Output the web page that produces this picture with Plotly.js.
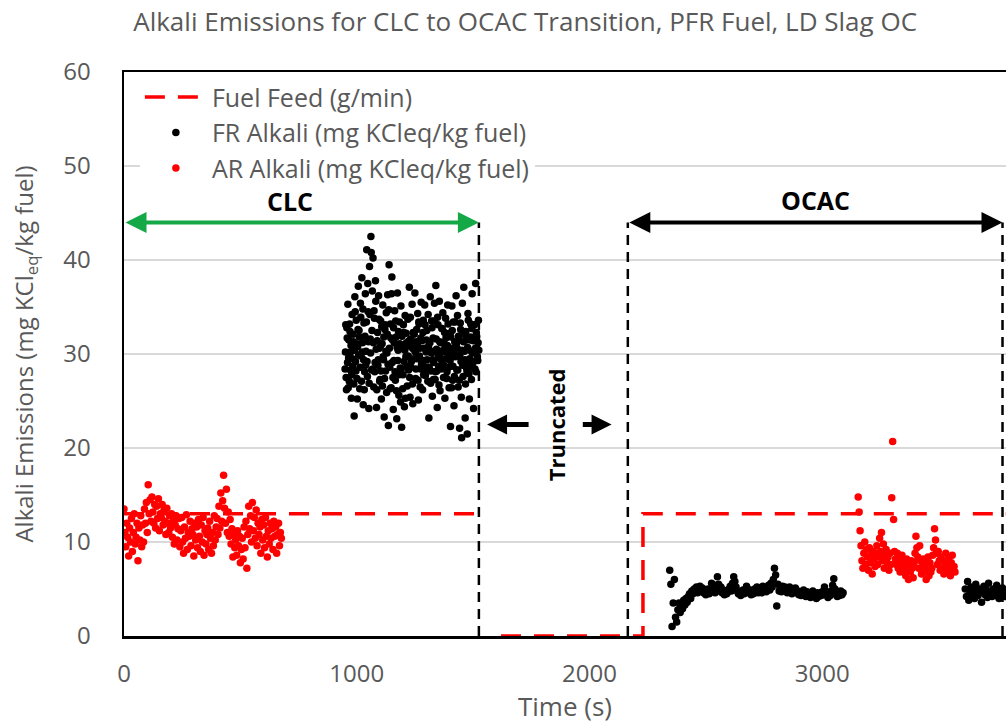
<!DOCTYPE html>
<html>
<head>
<meta charset="utf-8">
<script src="https://cdn.plot.ly/plotly-3.0.1.min.js"></script>
<style>html,body{margin:0;padding:0;background:#fff;}#chart{width:1006px;height:724px;}</style>
</head>
<body>
<div id="chart"></div>
<script>
// ---- Data ----
// Fuel feed (g/min) step profile (gap where the record is missing)
const feedTime = [0, 1525, null, 1620, 2230, 2230, 3790];
const feedValue = [13, 13, null, 0, 0, 13, 13];

// FR alkali, CLC period: start time and sampling step (s)
const frClcStart = 950, frClcStep = 3;
const frClcValues = [
  28.4,33.1,26.2,31.7,35.3,29.6,27.1,32.4,30.2,25.3,
  34.2,28.7,31.3,23.4,36.1,29.2,33.6,27.4,30.8,37.2,
  32.5,26.3,35.4,29.8,38.1,31.2,24.6,33.3,28.1,36.4,
  30.3,41.1,27.6,34.5,24.2,39.3,31.6,42.5,28.3,36.7,
  40.2,26.5,33.8,29.1,35.6,24.3,31.4,28.8,36.2,30.6,
  27.3,33.5,25.2,31.1,35.2,29.4,23.3,32.6,28.2,34.4,
  30.1,36.3,22.4,39.5,28.6,33.2,26.4,38.2,31.5,24.1,
  29.3,34.6,27.2,31.8,23.1,36.5,30.4,25.6,33.4,28.5,
  35.1,22.2,30.7,27.8,32.3,24.4,34.1,29.7,31.2,26.6,
  33.7,28.3,37.1,25.4,31.6,29.2,35.3,24.7,30.5,32.1,
  36.5,27.4,31.3,29.5,34.3,25.1,33.2,30.6,28.4,35.5,
  31.4,26.2,33.6,29.3,35.2,27.7,30.2,32.5,28.6,34.2,
  23.2,30.4,36.1,28.2,33.5,25.5,31.7,29.1,35.4,27.3,
  37.3,30.5,24.3,33.1,28.7,35.6,26.1,31.2,29.4,32.7,
  34.4,27.5,31.1,25.3,33.8,30.2,28.1,35.2,29.6,26.4,
  32.2,22.3,30.6,35.1,27.2,33.4,24.5,31.3,29.7,36.2,
  28.3,34.1,26.5,31.6,22.1,33.3,29.2,21.1,35.4,27.6,
  37.1,30.3,23.2,32.4,28.5,21.5,34.3,29.1,25.2,31.5,
  33.2,27.3,36.4,30.1,24.2,31.6,28.4,37.5,32.3,30.5,
  29.3,33.6
];
// FR alkali, CLC period, interleaved samples
const frClcBStart = 951.5, frClcBStep = 3;
const frClcBValues = [
  30.2,27.5,32.8,29.1,26.4,31.5,33.2,28.3,30.9,27.8,
  29.5,32.1,26.8,30.4,34.5,28.2,31.1,25.2,32.6,29.9,
  31.8,28.6,33.9,27.1,30.2,34.8,29.4,26.2,31.9,28.8,
  33.4,29.2,37.5,31.3,26.9,34.2,30.1,40.8,32.5,28.4,
  31.2,34.6,28.1,37.8,30.5,26.2,32.3,29.4,33.7,27.1,
  30.8,28.2,32.9,26.6,29.7,31.8,27.4,33.1,30.3,25.9,
  32.1,28.9,34.7,30.6,26.3,31.7,36.4,29.1,27.5,32.8,
  31.2,28.1,33.5,26.1,30.7,29.3,32.4,27.8,31.1,24.9,
  28.4,31.9,26.3,33.1,29.2,30.4,25.3,32.2,28.7,30.9,
  29.8,31.4,27.5,33.9,28.6,30.7,26.8,32.3,29.5,31.1,
  30.2,28.4,32.6,31.1,27.2,33.4,29.8,26.5,31.7,28.9,
  29.1,32.3,27.8,30.6,33.1,28.3,31.5,29.4,27.1,30.8,
  28.6,31.2,26.9,30.1,32.8,29.4,27.3,33.5,30.2,28.1,
  31.6,28.2,33.9,29.6,26.7,31.3,30.1,28.4,32.7,29.2,
  30.4,28.8,32.3,29.5,31.7,27.4,30.9,33.2,28.6,30.1,
  29.3,31.8,26.4,32.5,28.7,30.2,27.6,33.4,29.8,31.1,
  30.6,28.3,31.9,27.2,29.9,32.6,25.4,30.4,28.8,31.3,
  32.1,29.4,26.8,31.5,28.2,30.7,33.6,27.9,29.5,31.8,
  30.3,32.7,28.6,31.4,29.2,33.1,30.6,28.1,31.9,29.7,
  31.2,30.4
];

// AR alkali, CLC period
const arClcStart = 0, arClcStep = 4;
const arClcValues = [
  13.5,11,9.5,12,10.5,8.5,11.5,10,12.5,9,
  11,13,9.8,10.5,12,8,11.5,10.2,12.8,9.5,
  11.8,10,13.5,12,14.2,11,16.1,13,14.5,12.2,
  14.8,13.2,12,14,11.5,13.8,12.5,14.6,11.2,13,
  12.6,14,11.8,13.4,12.2,10.8,13.6,12,11,12.8,
  11.5,13,10.5,12.2,9.8,11.8,12.8,10.2,11.4,12.5,
  9.5,11.2,12.6,10,8.8,11.6,10.4,12.9,9.2,11,
  10.6,12.2,9.6,11.4,10.8,8.5,12,10.2,11.6,9.4,
  12.4,10.6,9,11.8,10,12.6,8.6,11.2,9.8,10.8,
  11.5,9.2,12.2,10.4,8.8,11,9.6,12.8,10.2,11.6,
  12.5,10.8,13.8,11.5,15.2,12.2,14.4,17.1,13.6,12,
  15.6,11,13.2,10.6,12.4,9.8,11.4,8.4,10.8,9.4,
  10.2,8.6,11.2,9.6,10.6,7.8,9.2,10.4,8.2,11.6,
  9.4,12.2,7.2,10.8,13.8,11.4,12.8,10,14.2,11.2,
  12.6,10.4,13.4,9.6,12,10.8,11.6,8.8,12.4,10.2,
  11.8,9.4,12.6,10.6,8.4,11.2,9.8,12,10.4,11.4,
  9.2,12.2,10.6,11.6,8.8,10.8,12,9.6,11,10.4
];

// FR alkali, OCAC period (first block)
const frOcacStart = 2345, frOcacStep = 5;
const frOcacValues = [
  7,5.5,1,3.5,6,2,1.5,2.8,3.5,2.5,
  3.2,2.9,3.8,3.3,4,3.6,4.2,4.5,4,4.8,
  4.5,5,4.7,5.2,4.6,4.9,5.3,4.8,5.1,4.6,
  4.9,4.4,4.7,5,4.5,4.8,5.6,4.9,5.2,4.6,
  5.4,6.3,5.5,4.8,5.2,4.6,4.9,4.4,4.8,4.5,
  4.7,5,5.3,4.8,5.6,6.3,5.8,5.2,4.8,4.5,
  4.7,4.3,4.6,4.9,4.5,4.8,5.3,5,4.6,4.9,
  4.4,4.8,4.5,5,4.7,5.2,4.6,4.9,5.1,4.6,
  5.3,4.8,5.1,4.7,5,5.4,4.9,5.6,5.2,6,
  7.2,6.5,3.2,5.5,4.8,5.1,4.7,5.3,4.9,5.2,
  5,4.6,4.8,5.2,4.9,4.5,5,4.7,5.1,4.6,
  4.8,4.4,4.7,4.3,4.6,4.9,4.5,4.2,4.7,4.4,
  4.6,4.1,4.4,4.8,4.3,4.5,4,4.6,4.2,4.5,
  4.3,4.7,4.4,5.2,4.8,4.5,4.1,4.6,4.3,4.8,
  5.4,6.1,5,4.5,4.2,4.6,4.3,4.8,4.4,4.6
];

// FR alkali, OCAC period (second block)
const frOcac2Start = 3615, frOcac2Step = 5;
const frOcac2Values = [
  5,4.2,5.8,3.8,4.6,5.2,4.4,4.9,4,5.5,
  4.6,4.3,5,4.7,3.6,4.8,5.3,4.4,4.9,4.1,
  5.6,4.5,4.8,4.2,5,4.6,4.3,5.4,4.7,4,
  4.9,4.4,5.1,4.6,4.2,4.8
];

// AR alkali, OCAC period
const arOcacStart = 3155, arOcacStep = 4;
const arOcacValues = [
  14.8,13.2,11.2,9.6,8,7.2,8.8,10,7.6,9.2,
  8.4,7,9.4,7.8,8.6,6.6,9,8.2,7.4,8.8,
  9.6,7.6,8.4,10.4,9,11,8,9.8,7.2,8.6,
  9.2,7.8,8.4,7,8.8,7.6,14.7,20.7,12.4,9,
  8.2,7.6,8.8,7.2,8.4,6.8,7.8,8.6,7,8,
  7.4,6.4,8.2,7,6,7.6,6.8,8,7.2,6.2,
  7.8,8.8,10.6,9.4,8.4,7.2,9.6,8,6.6,7.4,
  8.2,6.8,7.6,6,7,8.4,6.4,7.8,6.8,7.2,
  8.6,9.4,11.4,10.2,8.8,7.6,9,8,7,8.4,
  7.2,8,6.6,7.8,8.8,7.4,6.8,8.2,7.6,6.4,
  7.8,8.6,7,7.4,6.8
];

// Phase boundaries (s) and arrow levels
const clcStart = 0, clcEnd = 1525, ocacStart = 2165, ocacEnd = 3775;
const phaseLevel = 44;
const truncLeftTip = 1560, truncLeftTail = 1745, truncRightTail = 1965, truncRightTip = 2095, truncLevel = 22.5;

const seriesNames = ['Fuel Feed (g/min)', 'FR Alkali (mg KCleq/kg fuel)', 'AR Alkali (mg KCleq/kg fuel)'];
const xTicks = [0, 1000, 2000, 3000];
const yTicks = [0, 10, 20, 30, 40, 50, 60];

function times(start, step, n) { const t = []; for (let i = 0; i < n; i++) t.push(start + i * step); return t; }

const frX = [].concat(times(frClcStart, frClcStep, frClcValues.length), [null],
  times(frClcBStart, frClcBStep, frClcBValues.length), [null],
  times(frOcacStart, frOcacStep, frOcacValues.length), [null],
  times(frOcac2Start, frOcac2Step, frOcac2Values.length));
const frY = [].concat(frClcValues, [null], frClcBValues, [null], frOcacValues, [null], frOcac2Values);
const arX = [].concat(times(arClcStart, arClcStep, arClcValues.length), [null],
  times(arOcacStart, arOcacStep, arOcacValues.length));
const arY = [].concat(arClcValues, [null], arOcacValues);

const gray = '#595959';
const FONT = 'Open Sans, sans-serif';

const traces = [
  { x: feedTime, y: feedValue, name: seriesNames[0], mode: 'lines', legendgroup: 'a', connectgaps: false,
    line: { color: '#ff0000', width: 3.5, dash: '20px,13px' } },
  { x: frX, y: frY, name: seriesNames[1], mode: 'markers', legendgroup: 'b',
    marker: { color: '#000000', size: 7.5 } },
  { x: arX, y: arY, name: seriesNames[2], mode: 'markers', legendgroup: 'c',
    marker: { color: '#ff0000', size: 7.5 } }
];

function vline(x) {
  return { type: 'line', xref: 'x', yref: 'y', x0: x, x1: x, y0: 0, y1: phaseLevel,
    line: { color: '#000', width: 2.5, dash: '10px,7px' }, layer: 'above' };
}
function arrow(x, ax, y, color, width, size, both) {
  return { x: x, y: y, ax: ax, ay: y, xref: 'x', yref: 'y', axref: 'x', ayref: 'y', text: '',
    showarrow: true, arrowhead: 2, startarrowhead: 2, arrowside: both ? 'end+start' : 'end',
    arrowsize: size, startarrowsize: size, arrowwidth: width, arrowcolor: color, standoff: 0, startstandoff: 0 };
}

const layout = {
  width: 1006, height: 724,
  margin: { l: 124, r: 0, t: 72, b: 88 },
  paper_bgcolor: '#fff', plot_bgcolor: '#fff',
  font: { family: FONT, color: gray, size: 20 },
  title: { text: 'Alkali Emissions for CLC to OCAC Transition, PFR Fuel, LD Slag OC',
    x: 0.522, xanchor: 'center', xref: 'container', y: 0.97, yanchor: 'middle', font: { size: 26, color: gray, family: FONT } },
  xaxis: { range: [0, 3790], tickvals: xTicks, ticktext: xTicks.map(String), showgrid: false, zeroline: false,
    showline: true, linecolor: '#000', linewidth: 2.5, mirror: true, ticks: '', ticklabelstandoff: 15,
    tickfont: { size: 24, color: gray }, title: { text: 'Time (s)', font: { size: 26, color: gray }, standoff: 7 } },
  yaxis: { range: [0, 60], tickvals: yTicks, ticktext: yTicks.map(String), showgrid: true, gridcolor: '#d9d9d9', gridwidth: 1.5,
    zeroline: false, showline: true, linecolor: '#000', linewidth: 2.5, mirror: false, ticks: '', ticklabelstandoff: 26,
    tickfont: { size: 24, color: gray },
    title: { text: 'Alkali Emissions (mg KCl<sub>eq</sub>/kg fuel)', font: { size: 24, color: gray }, standoff: 23 } },
  showlegend: true,
  legend: { x: 0.018, y: 0.996, xanchor: 'left', yanchor: 'top', bgcolor: '#fff', borderwidth: 0,
    font: { size: 25, color: gray }, itemwidth: 62, traceorder: 'grouped', tracegroupgap: 0 },
  shapes: [vline(clcEnd), vline(ocacStart), vline(ocacEnd)],
  annotations: [
    arrow(clcEnd, clcStart, phaseLevel, '#14a846', 4, 1.05, true),
    arrow(ocacEnd, ocacStart, phaseLevel, '#000', 4, 1.05, true),
    arrow(truncLeftTip, truncLeftTail, truncLevel, '#000', 5, 0.8, false),
    arrow(truncRightTip, truncRightTail, truncLevel, '#000', 5, 0.8, false),
    { x: (clcStart + clcEnd) / 2 - 50, y: 46.3, xref: 'x', yref: 'y', text: '<b>CLC</b>', showarrow: false,
      font: { size: 25, color: '#000' } },
    { x: (ocacStart + ocacEnd) / 2, y: 46.4, xref: 'x', yref: 'y', text: '<b>OCAC</b>', showarrow: false,
      font: { size: 25, color: '#000' } },
    { x: (truncLeftTail + truncRightTail) / 2, y: truncLevel, xref: 'x', yref: 'y', text: '<b>Truncated</b>', showarrow: false,
      textangle: -90, font: { size: 22, color: '#000' } }
  ]
};

Plotly.newPlot('chart', traces, layout, { displayModeBar: false, staticPlot: true });
</script>
</body>
</html>
